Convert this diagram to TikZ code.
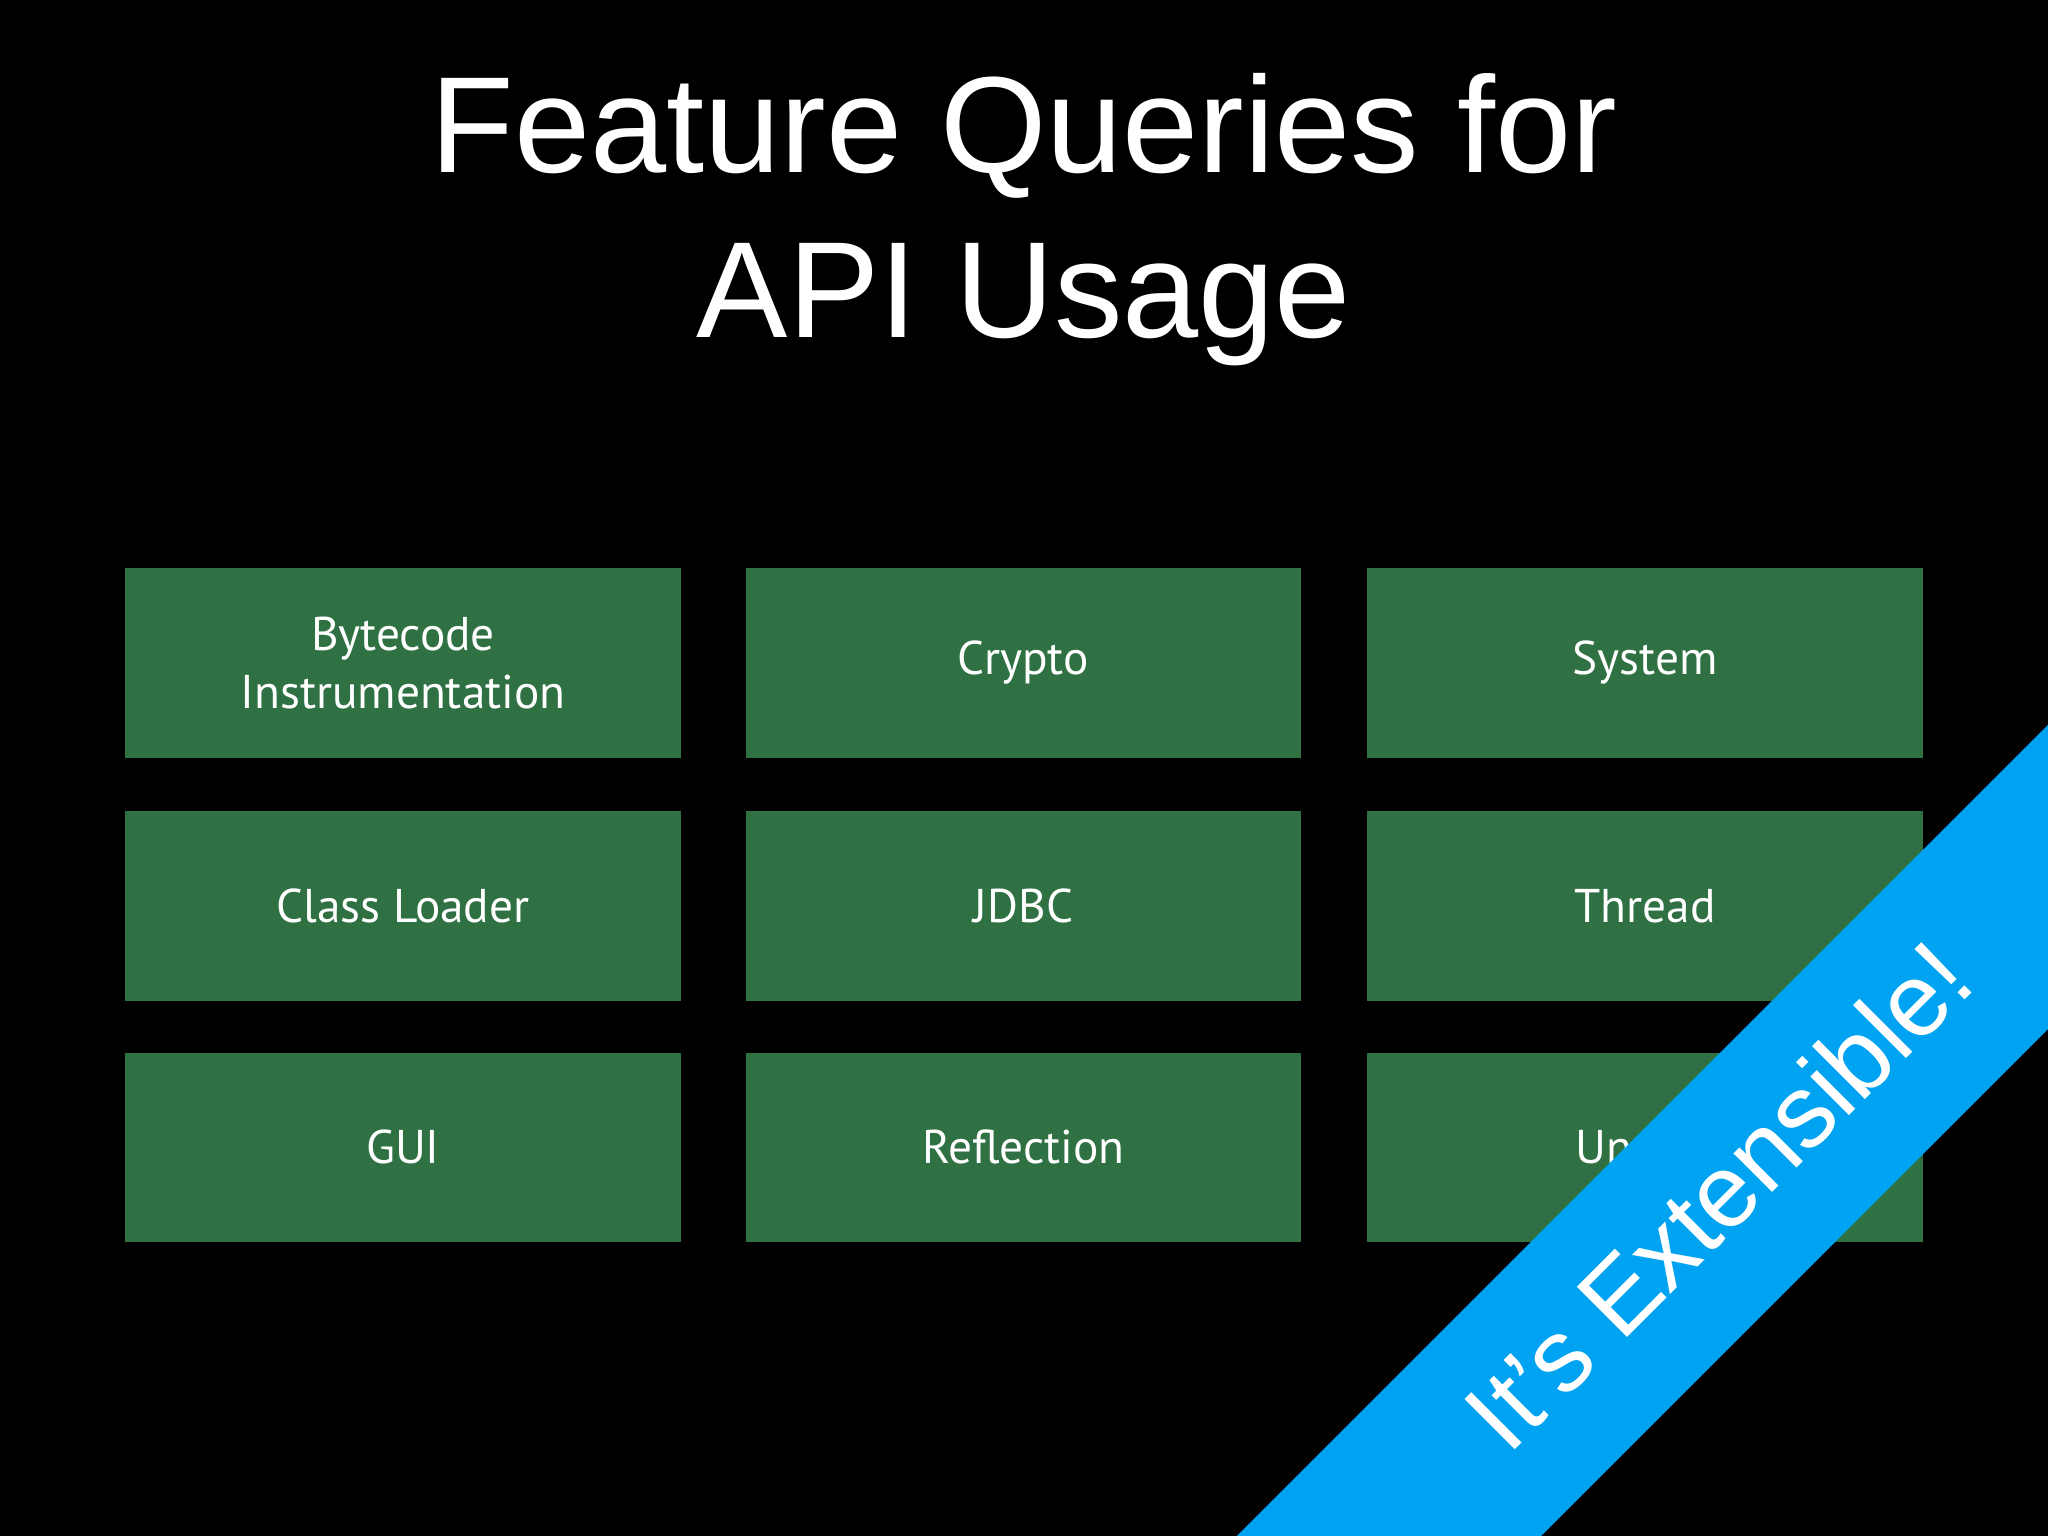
\documentclass[tikz,border=0pt]{standalone}
\usepackage{fontspec}
\setmainfont{Liberation Sans}
\newfontfamily\boxfont{PT Sans}
\begin{document}
\begin{tikzpicture}[x=0.01cm,y=-0.01cm,
  gbox/.style={draw=none, minimum width=4.25cm, minimum height=1.45cm, text=white, font=\boxfont\fontsize{10.3}{12.5}\selectfont, align=center, inner sep=0pt}]
\definecolor{gbg}{HTML}{2F7143}
\definecolor{bl}{HTML}{00A3F2}
\fill[black] (0,0) rectangle (1568,1176);
\useasboundingbox (0,0) rectangle (1568,1176);
\node[text=white, font=\fontsize{29.8}{36}\selectfont, align=center] (title) at (784,168) {Feature Queries for\\API Usage};
\tikzset{gb/.style={gbox, fill=gbg}}
\node[gb] (b1) at (308.5,507.5) {Bytecode\\Instrumentation};
\node[gb] (b2) at (783.5,507.5) {Crypto};
\node[gb] (b3) at (1259.5,507.5) {System};
\node[gb] (b4) at (308.5,693.5) {Class Loader};
\node[gb] (b5) at (783.5,693.5) {JDBC};
\node[gb] (b6) at (1259.5,693.5) {Thread};
\node[gb] (b7) at (308.5,878.5) {GUI};
\node[gb] (b8) at (783.5,878.5) {Reflection};
\node[gb] (b9) at (1259.5,878.5) {Unsafe};
\fill[bl] (1568,555) -- (947,1176) -- (1180,1176) -- (1568,788) -- cycle;
\node[text=white, rotate=45, font=\fontsize{22.5}{27}\selectfont] (ban) at (1315,915) {It’s Extensible!};
\end{tikzpicture}
\end{document}
